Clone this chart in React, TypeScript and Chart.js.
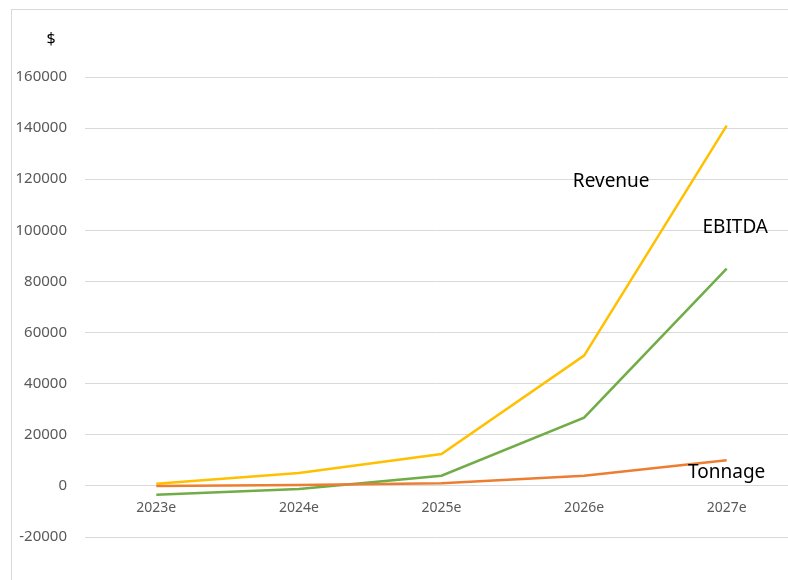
import React, { useEffect, useRef } from "react";
import { Chart, registerables } from "chart.js";

Chart.register(...registerables);

const categories = ["2023e", "2024e", "2025e", "2026e", "2027e"];
const revenue = [800, 5000, 12500, 51000, 141000];
const ebitda = [-3500, -1200, 4000, 26700, 85000];
const tonnage = [0, 300, 1000, 4000, 10000];
const yTicks = [-20000, 0, 20000, 40000, 60000, 80000, 100000, 120000, 140000, 160000];

const seriesLabels = [
  { text: "Revenue", x: 3.19, y: 119000 },
  { text: "EBITDA", x: 4.06, y: 101000 },
  { text: "Tonnage", x: 4.0, y: 5200 },
];

const FONT = "'Noto Sans', 'Open Sans', sans-serif";

const labelPlugin = {
  id: "seriesLabels",
  afterDatasetsDraw(chart: any) {
    const { ctx, scales } = chart;
    const xs = scales.x;
    const ys = scales.y;
    ctx.save();
    ctx.font = `19px ${FONT}`;
    ctx.fillStyle = "#000000";
    ctx.textAlign = "center";
    ctx.textBaseline = "middle";
    for (const l of seriesLabels) {
      ctx.fillText(l.text, xs.getPixelForValue(l.x), ys.getPixelForValue(l.y));
    }
    // axis title "$"
    ctx.font = `16px ${FONT}`;
    ctx.fillText("$", 51, ys.getPixelForValue(yTicks[yTicks.length - 1]) - 38);
    ctx.restore();
  },
};

export default function App() {
  const ref = useRef<HTMLCanvasElement | null>(null);

  useEffect(() => {
    document.body.style.margin = "0";
    if (!ref.current) return;
    const mk = (arr: number[]) => arr.map((v, i) => ({ x: i, y: v }));
    const chart = new Chart(ref.current, {
      type: "line",
      data: {
        datasets: [
          { label: "Revenue", data: mk(revenue), borderColor: "#ffc000", backgroundColor: "#ffc000", borderWidth: 2.5, pointRadius: 0, order: 2, tension: 0 },
          { label: "EBITDA", data: mk(ebitda), borderColor: "#70ad47", backgroundColor: "#70ad47", borderWidth: 2.5, pointRadius: 0, order: 1, tension: 0 },
          { label: "Tonnage", data: mk(tonnage), borderColor: "#ed7d31", backgroundColor: "#ed7d31", borderWidth: 2.5, pointRadius: 0, order: 0, tension: 0 },
        ],
      },
      options: {
        animation: false,
        responsive: false,
        maintainAspectRatio: false,
        layout: { padding: { top: 77, bottom: 43, left: 0, right: 0 } },
        plugins: { legend: { display: false }, tooltip: { enabled: false }, title: { display: false } },
        scales: {
          x: {
            type: "linear",
            position: { y: 0 } as any,
            min: -0.5,
            max: 4.43,
            grid: { display: false, drawTicks: false },
            border: { display: false },
            afterBuildTicks: (scale: any) => {
              scale.ticks = categories.map((_, i) => ({ value: i }));
            },
            ticks: {
              padding: 14,
              color: "#595959",
              font: { family: FONT, size: 14 },
              maxRotation: 0,
              autoSkip: false,
              callback: (v: any) => categories[Math.round(Number(v))] ?? "",
            },
          },
          y: {
            type: "linear",
            min: -20000,
            max: 160000,
            afterBuildTicks: (scale: any) => {
              scale.ticks = yTicks.map((v) => ({ value: v }));
            },
            afterFit: (scale: any) => {
              scale.width = 85;
            },
            grid: { color: "#d9d9d9", lineWidth: 1, drawTicks: false },
            border: { display: false },
            ticks: {
              padding: 18,
              color: "#595959",
              font: { family: FONT, size: 15 },
              callback: (v: any) => String(v),
            },
          },
        },
      },
      plugins: [labelPlugin],
    });
    return () => chart.destroy();
  }, []);

  return (
    <div style={{ position: "relative", width: 788, height: 580, overflow: "hidden", background: "#fff" }}>
      <div
        style={{
          position: "absolute",
          left: 11,
          top: 9,
          right: -2,
          bottom: -2,
          borderLeft: "1px solid #d9d9d9",
          borderTop: "1px solid #d9d9d9",
        }}
      />
      <canvas ref={ref} width={788} height={580} style={{ position: "absolute", left: 0, top: 0, width: 788, height: 580 }} />
    </div>
  );
}
